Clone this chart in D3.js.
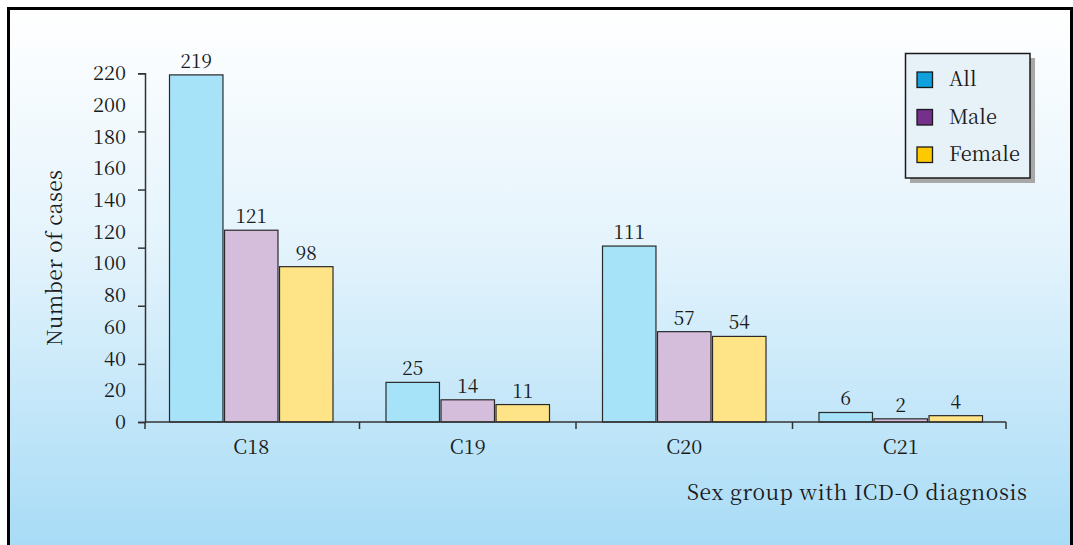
<!DOCTYPE html>
<html>
<head>
<meta charset="utf-8">
<script src="https://cdn.jsdelivr.net/npm/d3@7"></script>
<style>
html,body{margin:0;padding:0;background:#fff;}
svg{display:block;}
</style>
</head>
<body>
<svg id="chart" width="1073" height="545"></svg>
<script>
const categories = ["C18", "C19", "C20", "C21"];
const seriesNames = ["All", "Male", "Female"];
const allValues = [219, 25, 111, 6];
const maleValues = [121, 14, 57, 2];
const femaleValues = [98, 11, 54, 4];
const yTickLabels = [0, 20, 40, 60, 80, 100, 120, 140, 160, 180, 200, 220];
const yTickMarks = [0, 220/6, 440/6, 660/6, 880/6, 1100/6, 220];
const barColors = ["#a6e2f8", "#d5bddc", "#fee486"];
const legendColors = ["#10a0dc", "#74308c", "#ffc900"];
const yTitle = "Number of cases";
const xTitle = "Sex group with ICD-O diagnosis";

const FONT = '"Noto Serif CJK SC", "Liberation Serif", serif';
const seriesValues = [allValues, maleValues, femaleValues];
const svg = d3.select("#chart");

function txt(sel, size){
  return sel.style("font-family", FONT).style("font-size", size + "px").style("fill", "#1a1a1a");
}

// background gradient
const defs = svg.append("defs");
const grad = defs.append("linearGradient").attr("id","bg").attr("x1",0).attr("y1",0).attr("x2",0).attr("y2",1);
grad.append("stop").attr("offset","0%").attr("stop-color","#ffffff");
grad.append("stop").attr("offset","45%").attr("stop-color","#e3f3fc");
grad.append("stop").attr("offset","100%").attr("stop-color","#a6dbf6");

svg.append("rect").attr("x",8).attr("y",8).attr("width",1063).attr("height",545)
  .attr("fill","url(#bg)");
svg.append("path").attr("d","M8.5,548 V8.5 H1071.5 V548")
  .attr("fill","none").attr("stroke","#000").attr("stroke-width",3);

// scales
const y = d3.scaleLinear().domain([0,220]).range([422,73.3]);
const x0 = d3.scaleBand().domain(categories).range([143,1009]).padding(0);
const bw = x0.bandwidth();
const x1 = d3.scaleBand().domain(seriesNames).range([(bw-163.5)/2, (bw+163.5)/2]).paddingInner(0.028);

// y axis tick marks
const yMarks = d3.axisLeft(y).tickValues(yTickMarks).tickSize(7).tickFormat("");
const gyM = svg.append("g").attr("transform","translate(145,0)").call(yMarks);
gyM.select(".domain").attr("stroke","#333").attr("stroke-width",1.5);
gyM.selectAll(".tick line").attr("stroke","#333").attr("stroke-width",1.5);

// y axis labels
const yLabels = d3.axisLeft(y).tickValues(yTickLabels).tickSize(0).tickPadding(19).tickFormat(d3.format("d"));
const gyL = svg.append("g").attr("transform","translate(145,0)").call(yLabels);
gyL.select(".domain").remove();
txt(gyL.selectAll("text"), 20);

// bars
categories.forEach((c,ci)=>{
  const g = svg.append("g").attr("transform",`translate(${x0(c)},0)`);
  seriesNames.forEach((s,si)=>{
    const v = seriesValues[si][ci];
    g.append("rect")
      .attr("x",x1(s)).attr("y",y(v))
      .attr("width",x1.bandwidth()).attr("height",y(0)-y(v))
      .attr("fill",barColors[si]).attr("stroke","#2a2a2a").attr("stroke-width",1.2);
    txt(g.append("text")
      .attr("x",x1(s)+x1.bandwidth()/2).attr("y",y(v)-7)
      .attr("text-anchor","middle"), 19).text(v);
  });
});

// x axis
const xAxis = d3.axisBottom(x0).tickSize(0).tickPadding(18);
const gx = svg.append("g").attr("transform","translate(0,422)").call(xAxis);
gx.select(".domain").attr("stroke","#333").attr("stroke-width",1.5).attr("d","M145,0H1006");
txt(gx.selectAll("text"), 20);
const bounds = categories.map(c=>x0(c)).concat([x0(categories[categories.length-1])+bw]);
gx.selectAll(".bnd").data(bounds).join("line").attr("class","bnd")
  .attr("x1",d=>Math.min(1006,Math.max(145,d))).attr("x2",d=>Math.min(1006,Math.max(145,d))).attr("y1",0).attr("y2",7)
  .attr("stroke","#333").attr("stroke-width",1.5);

// axis titles
txt(svg.append("text").attr("transform","translate(62,258) rotate(-90)")
  .attr("text-anchor","middle")
  .attr("textLength",176).attr("lengthAdjust","spacing"), 21).text(yTitle);
txt(svg.append("text").attr("x",687).attr("y",500)
  .attr("textLength",340).attr("lengthAdjust","spacing"), 21).text(xTitle);

// legend
const lg = svg.append("g");
lg.append("rect").attr("x",910).attr("y",58).attr("width",125).attr("height",125).attr("fill","#a8a8a8");
lg.append("rect").attr("x",905.5).attr("y",53.5).attr("width",124.5).attr("height",124.5)
  .attr("fill","#e7f1f8").attr("stroke","#1a1a1a").attr("stroke-width",1.5);
seriesNames.forEach((s,i)=>{
  const yy = 72 + i*37.5;
  lg.append("rect").attr("x",917).attr("y",yy).attr("width",15.5).attr("height",15.5)
    .attr("fill",legendColors[i]).attr("stroke","#1a1a1a").attr("stroke-width",1.3);
  txt(lg.append("text").attr("x",949).attr("y",yy+14), 20).text(s);
});
</script>
</body>
</html>
